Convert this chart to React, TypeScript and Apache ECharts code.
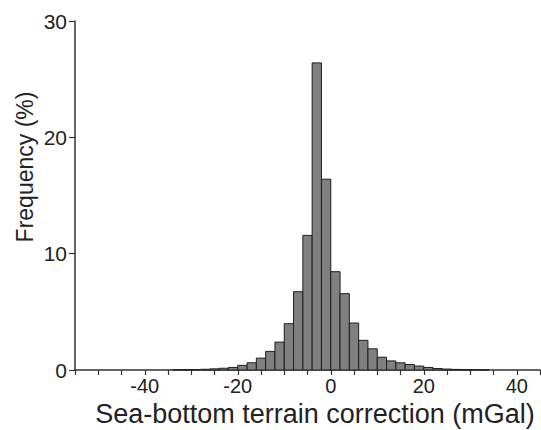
import React, { useEffect, useRef } from "react";
import * as echarts from "echarts";

// Histogram bins (mGal): left and right edges, and frequency (%)
const binLeft = [-34, -32, -30, -28, -26, -24, -22, -20, -18, -16, -14, -12, -10, -8, -6, -4, -2, 0, 2, 4, 6, 8, 10, 12, 14, 16, 18, 20, 22, 24, 26, 28, 30, 32];
const binRight = [-32, -30, -28, -26, -24, -22, -20, -18, -16, -14, -12, -10, -8, -6, -4, -2, 0, 2, 4, 6, 8, 10, 12, 14, 16, 18, 20, 22, 24, 26, 28, 30, 32, 34];
const frequency = [0.02, 0.03, 0.04, 0.06, 0.1, 0.15, 0.22, 0.4, 0.62, 1.02, 1.6, 2.4, 3.98, 6.73, 11.57, 26.4, 16.4, 8.45, 6.56, 4.04, 2.55, 1.82, 1.1, 0.78, 0.62, 0.47, 0.34, 0.22, 0.13, 0.08, 0.05, 0.03, 0.02, 0.01];

const xTickLabels = [-40, -20, 0, 20, 40];
const xTicks = [-55, -50, -45, -40, -35, -30, -25, -20, -15, -10, -5, 0, 5, 10, 15, 20, 25, 30, 35, 40, 45];
const yTickLabels = [0, 10, 20, 30];

const xName = "Sea-bottom terrain correction (mGal)";
const yName = "Frequency (%)";

export default function App() {
  const ref = useRef<HTMLDivElement>(null);

  useEffect(() => {
    if (!ref.current) return;
    const chart = echarts.init(ref.current, undefined, { renderer: "svg" });
    const data = binLeft.map((l, i) => [l, binRight[i], frequency[i]]);
    const font = "'Liberation Sans', Arial, sans-serif";
    chart.setOption({
      animation: false,
      backgroundColor: "#ffffff",
      grid: { left: 75, right: 1, top: 21, bottom: 60, containLabel: false },
      xAxis: {
        type: "value",
        min: -55,
        max: 45,
        interval: 5,
        splitLine: { show: false },
        axisLine: { show: true, onZero: false, lineStyle: { color: "#333", width: 1.5 } },
        axisTick: { show: true, inside: false, length: 5, customValues: xTicks, lineStyle: { color: "#333", width: 1.2 } },
        axisLabel: {
          margin: 6,
          fontSize: 20,
          lineHeight: 20,
          fontFamily: font,
          color: "#222",
          customValues: xTickLabels,
        },
      },
      yAxis: {
        type: "value",
        min: 0,
        max: 30,
        interval: 10,
        splitLine: { show: false },
        axisLine: { show: true, onZero: false, lineStyle: { color: "#333", width: 1.5 } },
        axisTick: { show: true, inside: false, length: 6, lineStyle: { color: "#333", width: 1.2 } },
        axisLabel: {
          margin: 8,
          fontSize: 21,
          fontFamily: font,
          color: "#222",
          customValues: yTickLabels,
        },
      },
      graphic: [
        {
          type: "text",
          x: 315,
          y: 414,
          style: {
            text: xName,
            fontSize: 27,
            lineHeight: 27,
            fontFamily: font,
            fill: "#222",
            align: "center",
            verticalAlign: "middle",
          },
        },
        {
          type: "text",
          x: 25,
          y: 167,
          rotation: Math.PI / 2,
          style: {
            text: yName,
            fontSize: 23,
            fontFamily: font,
            fill: "#222",
            align: "center",
            verticalAlign: "middle",
          },
        },
      ],
      series: [
        {
          type: "custom",
          encode: { x: [0, 1], y: 2 },
          data,
          renderItem: (params: any, api: any) => {
            const p0 = api.coord([api.value(0), api.value(2)]);
            const p1 = api.coord([api.value(1), 0]);
            return {
              type: "rect",
              shape: { x: p0[0], y: p0[1], width: p1[0] - p0[0], height: p1[1] - p0[1] },
              style: { fill: "#808080", stroke: "#1e1e1e", lineWidth: 1 },
            };
          },
        },
      ],
    });
    return () => chart.dispose();
  }, []);

  return (
    <div
      ref={ref}
      style={{ position: "absolute", left: 0, top: 0, width: 541, height: 430 }}
    />
  );
}
